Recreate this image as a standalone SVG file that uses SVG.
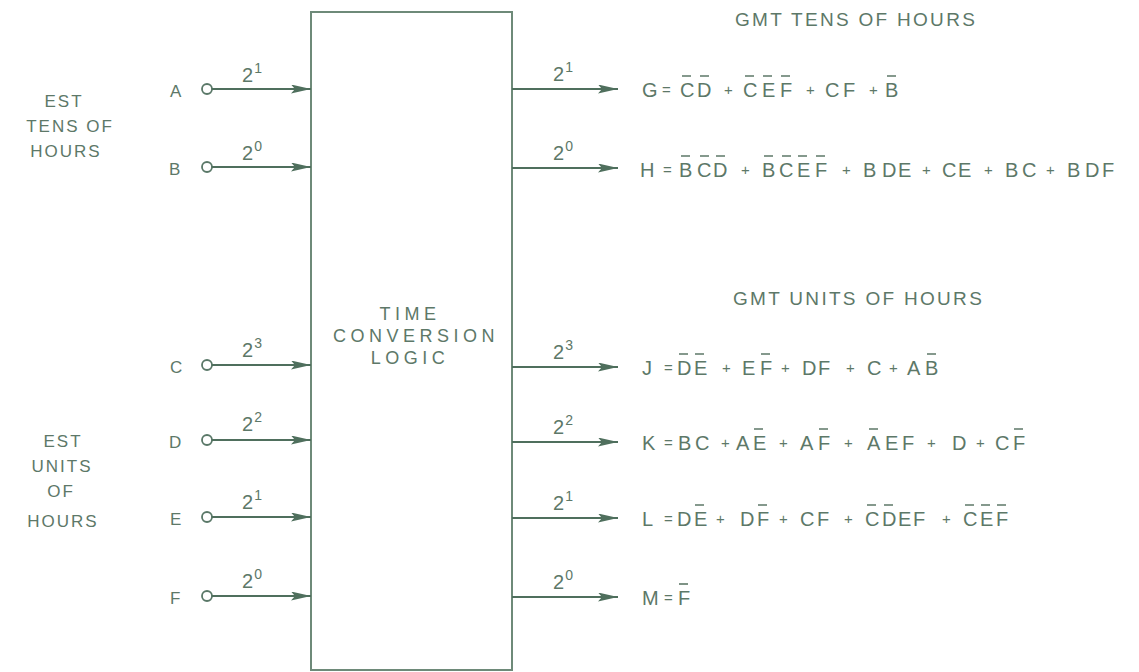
<svg xmlns="http://www.w3.org/2000/svg" width="1139" height="672" viewBox="0 0 1139 672">
<style>
text{font-family:"Liberation Sans",Arial,sans-serif;fill:#5d7868}
.lbl{font-size:17px}
.ttl{font-size:19px;letter-spacing:2.3px}
.blk{font-size:17px;letter-spacing:2px;text-anchor:middle}
.logic{font-size:18px;letter-spacing:4.5px;text-anchor:middle}
.eq{font-size:20px}
.op{font-size:15px}
.exp{font-size:20px}
.sup{font-size:14px}
.wire{stroke:#4f6f5d;stroke-width:2;fill:none}
.term{stroke:#5a7868;stroke-width:1.8;fill:#fff}
.bar{stroke:#5d7868;stroke-width:1.6;fill:none}
</style>
<defs>
<marker id="ah" markerUnits="userSpaceOnUse" markerWidth="20" markerHeight="9" refX="20" refY="4.5" orient="auto">
<path d="M0,0 L20,4.5 L0,9 L4,4.5 z" fill="#4f6f5d"/>
</marker>
</defs>
<rect id="logic" x="311" y="12" width="201" height="658" fill="none" stroke="#6e8a79" stroke-width="2"/>
<g id="logic-label">
<text class="logic" x="410" y="320">TIME</text>
<text class="logic" x="416" y="342">CONVERSION</text>
<text class="logic" x="410" y="364">LOGIC</text>
</g>
<g id="est-tens">
<text class="blk" x="64" y="107">EST</text>
<text class="blk" x="70" y="132">TENS OF</text>
<text class="blk" x="66" y="157">HOURS</text>
</g>
<g id="est-units">
<text class="blk" x="63" y="447">EST</text>
<text class="blk" x="62" y="472">UNITS</text>
<text class="blk" x="61" y="497">OF</text>
<text class="blk" x="63" y="527">HOURS</text>
</g>
<g id="gmt-titles">
<text class="ttl" x="735" y="26">GMT TENS OF HOURS</text>
<text class="ttl" x="733" y="305">GMT UNITS OF HOURS</text>
</g>
<g id="inputs">
<g id="in-A"><text class="lbl" x="170" y="97">A</text><circle class="term" cx="207" cy="89" r="5"/></g>
<g id="in-B"><text class="lbl" x="169" y="175">B</text><circle class="term" cx="207" cy="167" r="5"/></g>
<g id="in-C"><text class="lbl" x="170" y="373">C</text><circle class="term" cx="207" cy="365" r="5"/></g>
<g id="in-D"><text class="lbl" x="169" y="448">D</text><circle class="term" cx="207" cy="440" r="5"/></g>
<g id="in-E"><text class="lbl" x="170" y="525">E</text><circle class="term" cx="207" cy="517" r="5"/></g>
<g id="in-F"><text class="lbl" x="170" y="604">F</text><circle class="term" cx="207" cy="596" r="5"/></g>
</g>
<g id="connectors">
<line class="wire" x1="212" y1="89" x2="311" y2="89" marker-end="url(#ah)"/>
<line class="wire" x1="212" y1="167" x2="311" y2="167" marker-end="url(#ah)"/>
<line class="wire" x1="212" y1="365" x2="311" y2="365" marker-end="url(#ah)"/>
<line class="wire" x1="212" y1="440" x2="311" y2="440" marker-end="url(#ah)"/>
<line class="wire" x1="212" y1="517" x2="311" y2="517" marker-end="url(#ah)"/>
<line class="wire" x1="212" y1="596" x2="311" y2="596" marker-end="url(#ah)"/>
<line class="wire" x1="512" y1="89" x2="618" y2="89" marker-end="url(#ah)"/>
<line class="wire" x1="512" y1="168" x2="618" y2="168" marker-end="url(#ah)"/>
<line class="wire" x1="512" y1="367" x2="618" y2="367" marker-end="url(#ah)"/>
<line class="wire" x1="512" y1="442" x2="618" y2="442" marker-end="url(#ah)"/>
<line class="wire" x1="512" y1="518" x2="618" y2="518" marker-end="url(#ah)"/>
<line class="wire" x1="512" y1="597" x2="618" y2="597" marker-end="url(#ah)"/>
</g>
<g id="weights">
<text class="exp" x="242" y="82">2<tspan class="sup" dx="1" dy="-9">1</tspan></text>
<text class="exp" x="242" y="160">2<tspan class="sup" dx="1" dy="-9">0</tspan></text>
<text class="exp" x="242" y="357">2<tspan class="sup" dx="1" dy="-9">3</tspan></text>
<text class="exp" x="242" y="431">2<tspan class="sup" dx="1" dy="-9">2</tspan></text>
<text class="exp" x="242" y="509">2<tspan class="sup" dx="1" dy="-9">1</tspan></text>
<text class="exp" x="242" y="588">2<tspan class="sup" dx="1" dy="-9">0</tspan></text>
<text class="exp" x="553" y="81">2<tspan class="sup" dx="1" dy="-9">1</tspan></text>
<text class="exp" x="553" y="160">2<tspan class="sup" dx="1" dy="-9">0</tspan></text>
<text class="exp" x="553" y="359">2<tspan class="sup" dx="1" dy="-9">3</tspan></text>
<text class="exp" x="553" y="434">2<tspan class="sup" dx="1" dy="-9">2</tspan></text>
<text class="exp" x="553" y="510">2<tspan class="sup" dx="1" dy="-9">1</tspan></text>
<text class="exp" x="553" y="589">2<tspan class="sup" dx="1" dy="-9">0</tspan></text>
</g>
<g id="out-G">
<text class="eq" y="97"><tspan x="642">G</tspan> <tspan class="op" x="662" dy="-2">=</tspan> <tspan x="680" dy="2">C</tspan><tspan x="697">D</tspan> <tspan class="op" x="724" dy="-2">+</tspan> <tspan x="743" dy="2">C</tspan><tspan x="762">E</tspan><tspan x="780">F</tspan> <tspan class="op" x="806" dy="-2">+</tspan> <tspan x="825" dy="2">C</tspan><tspan x="843">F</tspan> <tspan class="op" x="869" dy="-2">+</tspan> <tspan x="885" dy="2">B</tspan></text>
<path class="bar" d="M682,76h9M700,76h9M745,76h9M763,76h9M781,76h9M887,76h9"/>
</g>
<g id="out-H">
<text class="eq" y="177"><tspan x="640">H</tspan> <tspan class="op" x="663" dy="-2">=</tspan> <tspan x="679" dy="2">B</tspan><tspan x="697">C</tspan><tspan x="713">D</tspan> <tspan class="op" x="741" dy="-2">+</tspan> <tspan x="762" dy="2">B</tspan><tspan x="779">C</tspan><tspan x="797">E</tspan><tspan x="815">F</tspan> <tspan class="op" x="842" dy="-2">+</tspan> <tspan x="863" dy="2">B</tspan><tspan x="882">D</tspan><tspan x="898">E</tspan> <tspan class="op" x="922" dy="-2">+</tspan> <tspan x="942" dy="2">C</tspan><tspan x="958">E</tspan> <tspan class="op" x="984" dy="-2">+</tspan> <tspan x="1005" dy="2">B</tspan><tspan x="1022">C</tspan> <tspan class="op" x="1046" dy="-2">+</tspan> <tspan x="1067" dy="2">B</tspan><tspan x="1085">D</tspan><tspan x="1102">F</tspan></text>
<path class="bar" d="M681,156h9M700,156h9M716,156h9M764,156h9M782,156h9M798,156h9M816,156h9"/>
</g>
<g id="out-J">
<text class="eq" y="375"><tspan x="642">J</tspan> <tspan class="op" x="664" dy="-2">=</tspan> <tspan x="677" dy="2">D</tspan><tspan x="694">E</tspan> <tspan class="op" x="722" dy="-2">+</tspan> <tspan x="742" dy="2">E</tspan><tspan x="760">F</tspan> <tspan class="op" x="781" dy="-2">+</tspan> <tspan x="802" dy="2">D</tspan><tspan x="818">F</tspan> <tspan class="op" x="846" dy="-2">+</tspan> <tspan x="867" dy="2">C</tspan> <tspan class="op" x="889" dy="-2">+</tspan> <tspan x="907" dy="2">A</tspan><tspan x="925">B</tspan></text>
<path class="bar" d="M679,354h9M695,354h9M761,354h9M927,354h9"/>
</g>
<g id="out-K">
<text class="eq" y="450"><tspan x="642">K</tspan> <tspan class="op" x="664" dy="-2">=</tspan> <tspan x="678" dy="2">B</tspan><tspan x="695">C</tspan> <tspan class="op" x="721" dy="-2">+</tspan> <tspan x="736" dy="2">A</tspan><tspan x="753">E</tspan> <tspan class="op" x="779" dy="-2">+</tspan> <tspan x="800" dy="2">A</tspan><tspan x="818">F</tspan> <tspan class="op" x="844" dy="-2">+</tspan> <tspan x="867" dy="2">A</tspan><tspan x="885">E</tspan><tspan x="902">F</tspan> <tspan class="op" x="927" dy="-2">+</tspan> <tspan x="952" dy="2">D</tspan> <tspan class="op" x="976" dy="-2">+</tspan> <tspan x="995" dy="2">C</tspan><tspan x="1013">F</tspan></text>
<path class="bar" d="M754,429h9M819,429h9M869,429h9M1014,429h9"/>
</g>
<g id="out-L">
<text class="eq" y="526"><tspan x="642">L</tspan> <tspan class="op" x="664" dy="-2">=</tspan> <tspan x="677" dy="2">D</tspan><tspan x="694">E</tspan> <tspan class="op" x="716" dy="-2">+</tspan> <tspan x="740" dy="2">D</tspan><tspan x="757">F</tspan> <tspan class="op" x="779" dy="-2">+</tspan> <tspan x="800" dy="2">C</tspan><tspan x="817">F</tspan> <tspan class="op" x="844" dy="-2">+</tspan> <tspan x="865" dy="2">C</tspan><tspan x="882">D</tspan><tspan x="898">E</tspan><tspan x="913">F</tspan> <tspan class="op" x="942" dy="-2">+</tspan> <tspan x="963" dy="2">C</tspan><tspan x="980">E</tspan><tspan x="996">F</tspan></text>
<path class="bar" d="M695,505h9M758,505h9M867,505h9M884,505h9M965,505h9M981,505h9M997,505h9"/>
</g>
<g id="out-M">
<text class="eq" y="605"><tspan x="642">M</tspan> <tspan class="op" x="664" dy="-2">=</tspan> <tspan x="678" dy="2">F</tspan></text>
<path class="bar" d="M679,584h9"/>
</g>
</svg>
